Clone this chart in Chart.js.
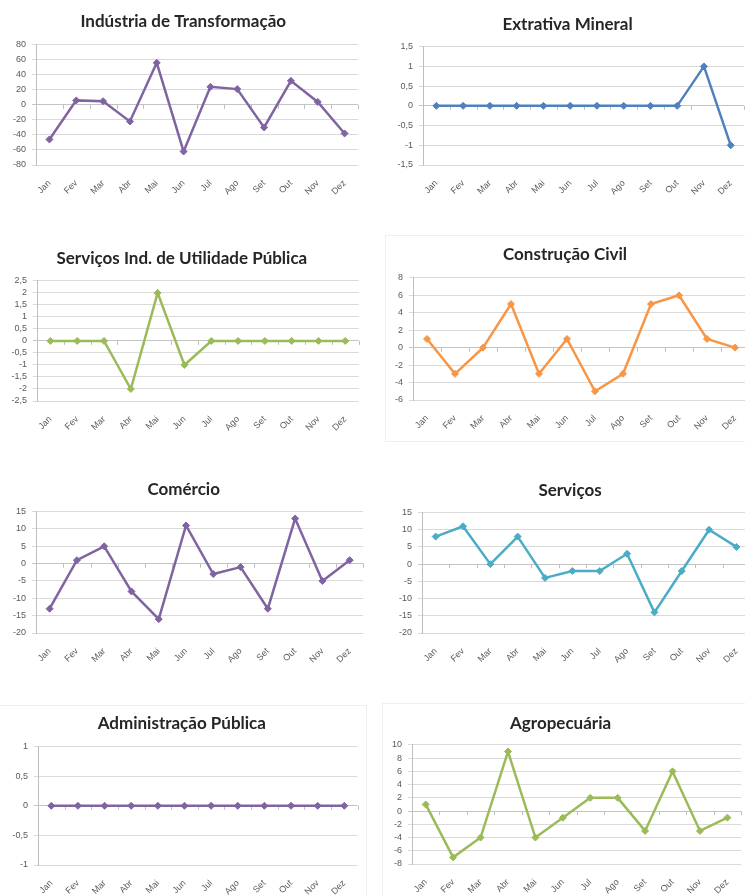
<!DOCTYPE html>
<html>
<head>
<meta charset="utf-8">
<script src="https://cdn.jsdelivr.net/npm/chart.js@4.4.0/dist/chart.umd.min.js"></script>
<style>
body { margin: 0; background: #fff; width: 745px; height: 896px; overflow: hidden; position: relative; }
canvas { position: absolute; }
.panel { position: absolute; border: 1px solid #efefef; }
</style>
</head>
<body>
<div class="panel" style="left:385px;top:235px;width:370px;height:205px"></div>
<div class="panel" style="left:-2px;top:705px;width:367px;height:200px"></div>
<div class="panel" style="left:382px;top:703px;width:370px;height:200px"></div>
<script>
const months = ['Jan', 'Fev', 'Mar', 'Abr', 'Mai', 'Jun', 'Jul', 'Ago', 'Set', 'Out', 'Nov', 'Dez'];

const industria = [-46, 6, 5, -22, 56, -62, 24, 21, -30, 32, 4, -38];
const extrativa = [0, 0, 0, 0, 0, 0, 0, 0, 0, 0, 1, -1];
const servUtilidade = [0, 0, 0, -2, 2, -1, 0, 0, 0, 0, 0, 0];
const construcao = [1, -3, 0, 5, -3, 1, -5, -3, 5, 6, 1, 0];
const comercio = [-13, 1, 5, -8, -16, 11, -3, -1, -13, 13, -5, 1];
const servicos = [8, 11, 0, 8, -4, -2, -2, 3, -14, -2, 10, 5];
const adminPublica = [0, 0, 0, 0, 0, 0, 0, 0, 0, 0, 0, 0];
const agropecuaria = [1, -7, -4, 9, -4, -1, 2, 2, -3, 6, -3, -1];

const titles = ['Indústria de Transformação', 'Extrativa Mineral', 'Serviços Ind. de Utilidade Pública',
    'Construção Civil', 'Comércio', 'Serviços', 'Administração Pública', 'Agropecuária'];
const series = [industria, extrativa, servUtilidade, construcao, comercio, servicos, adminPublica, agropecuaria];
const yMin = [-80, -1.5, -2.5, -6, -20, -20, -1, -8];
const yMax = [80, 1.5, 2.5, 8, 15, 15, 1, 10];
const yStep = [20, 0.5, 0.5, 2, 5, 5, 0.5, 2];

const colors = ['#8064a2', '#4f81bd', '#9bbb59', '#f79646', '#8064a2', '#4bacc6', '#8064a2', '#9bbb59'];

// plot area edges + title centre for each panel
const boxes = [
    { l: 35.5, r: 362, t: 44.3, b: 164.3, tx: 183, ty: 20.7 },
    { l: 422.6, r: 743.7, t: 46.5, b: 164.3, tx: 570, ty: 24 },
    { l: 37.3, r: 359, t: 280.7, b: 401, tx: 185, ty: 258 },
    { l: 413, r: 749, t: 277.7, b: 399.3, tx: 572, ty: 254 },
    { l: 35.7, r: 363, t: 511.7, b: 633.3, tx: 187.7, ty: 489.3 },
    { l: 421.6, r: 749.7, t: 512.3, b: 633.3, tx: 573.7, ty: 490 },
    { l: 37.7, r: 357.3, t: 746.7, b: 865, tx: 185, ty: 723.3 },
    { l: 412.3, r: 741.4, t: 745, b: 864.3, tx: 567, ty: 723.3 }
];

const yW = 32;
const xH = 40;
const titleSize = 17;
const titleLine = titleSize * 1.2;

// small tick marks on the zero axis, between categories
const zeroTicks = {
    id: 'zeroTicks',
    beforeDatasetsDraw(chart) {
        const x = chart.scales.x, y = chart.scales.y;
        const y0 = y.getPixelForValue(0);
        const n = chart.data.labels.length;
        const ctx = chart.ctx;
        ctx.save();
        ctx.strokeStyle = '#bfbfbf';
        ctx.lineWidth = 1;
        ctx.beginPath();
        for (let i = 1; i <= n; i++) {
            const px = Math.round(x.left + i * x.width / n) + 0.5;
            ctx.moveTo(px, y0);
            ctx.lineTo(px, y0 + 4);
        }
        ctx.stroke();
        ctx.restore();
    }
};

series.forEach((data, i) => {
    const bx = boxes[i];
    const left = bx.l - yW;
    const top = bx.ty - titleLine / 2;
    const right = Math.max(bx.r, 2 * bx.tx - left);
    const w = Math.round(right - left);
    const h = Math.round(bx.b + xH - top);
    const cv = document.createElement('canvas');
    cv.width = w;
    cv.height = h;
    cv.style.left = left + 'px';
    cv.style.top = top + 'px';
    document.body.appendChild(cv);

    new Chart(cv, {
        type: 'line',
        data: {
            labels: months,
            datasets: [{
                data: data,
                borderColor: colors[i],
                backgroundColor: colors[i],
                borderWidth: 2.5,
                pointStyle: 'rectRot',
                pointRadius: 3.5,
                pointBorderWidth: 1,
                tension: 0
            }]
        },
        options: {
            responsive: false,
            animation: false,
            layout: { padding: { left: 0, top: 0, bottom: 0, right: w - (bx.r - left) } },
            plugins: {
                legend: { display: false },
                tooltip: { enabled: false },
                title: {
                    display: true,
                    text: titles[i],
                    color: '#262626',
                    font: { family: 'Lato', size: titleSize, weight: 'bold' },
                    padding: { top: 0, bottom: bx.t - (bx.ty + titleLine / 2) }
                }
            },
            scales: {
                x: {
                    offset: true,
                    grid: { display: false, drawTicks: true, tickLength: 10 },
                    border: { display: false },
                    ticks: {
                        minRotation: 45,
                        maxRotation: 45,
                        padding: 3,
                        autoSkip: false,
                        color: '#595959',
                        font: { family: 'Liberation Sans', size: 9 }
                    },
                    afterFit: (s) => { s.height = xH; }
                },
                y: {
                    min: yMin[i],
                    max: yMax[i],
                    grid: {
                        color: (c) => c.tick && c.tick.value === 0 ? '#c4c4c4' : '#dadada',
                        tickLength: 4,
                        lineWidth: 1
                    },
                    border: { color: '#bfbfbf' },
                    ticks: {
                        stepSize: yStep[i],
                        autoSkip: false,
                        padding: 6,
                        color: '#595959',
                        font: { family: 'Liberation Sans', size: 9 },
                        callback: (v) => String(Math.round(v * 10) / 10).replace('.', ',')
                    },
                    afterFit: (s) => { s.width = yW; }
                }
            }
        },
        plugins: [zeroTicks]
    });
});
</script>
</body>
</html>
